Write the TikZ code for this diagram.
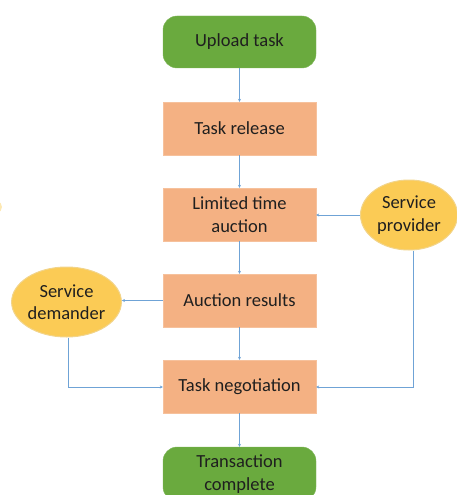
\documentclass[tikz,border=0pt]{standalone}
\usepackage{fontspec}
\setmainfont{Carlito}
\usetikzlibrary{shapes.geometric,arrows.meta}
\definecolor{boxgreen}{HTML}{6AAA3E}
\definecolor{boxorange}{HTML}{F4B183}
\definecolor{ellyellow}{HTML}{FBCB55}
\definecolor{ellborder}{HTML}{F2D48A}
\definecolor{linkblue}{HTML}{6FA3D6}
\begin{document}
\begin{tikzpicture}[x=1pt,y=-1pt,
  every node/.style={font=\fontsize{18.5}{22.5}\selectfont, text=black!88, align=center},
  greenbox/.style={rectangle, rounded corners=14pt, fill=boxgreen, draw=boxgreen!85!white, minimum width=153pt, minimum height=52pt, inner sep=0pt},
  orangebox/.style={rectangle, fill=boxorange, draw=boxorange!80!white, minimum width=153pt, minimum height=53pt, inner sep=0pt},
  actor/.style={ellipse, fill=ellyellow, draw=ellborder, line width=1pt, minimum width=106pt, minimum height=70pt, inner sep=0pt},
  link/.style={draw=linkblue, line width=0.7pt, -{Stealth[length=3pt,width=3pt]}}]
\useasboundingbox (0,0) rectangle (457,495);
\begin{scope}
\clip (0,0) rectangle (457,495);
\fill[ellyellow!45!white] (-60,207) ellipse (62pt and 18pt);
\node[greenbox] (upload) at (239.5,42) {Upload task};
\node[orangebox] (release) at (239.5,128.5) {Task release};
\node[orangebox] (auction) at (239.5,214.5) {Limited time\\auction};
\node[orangebox] (results) at (239.5,300.5) {Auction results};
\node[orangebox] (nego) at (239.5,386.5) {Task negotiation};
\node[greenbox, minimum height=54pt] (done) at (239.5,474) {Transaction\\complete};
\node[actor, minimum width=97pt] (provider) at (409,215) {Service\\provider};
\node[actor] (demander) at (66.5,302) {Service\\demander};
\end{scope}
\coordinate (pcorner) at (413,387);
\coordinate (dcorner) at (68,387);
\draw[link] (upload) -- (release);
\draw[link] (release) -- (auction);
\draw[link] (auction) -- (results);
\draw[link] (results) -- (nego);
\draw[link] (nego) -- (done);
\draw[link] (provider.west) -- (auction.east |- provider.west);
\draw[link] (results.west) -- (demander.east |- results.west);
\draw[link] (provider.south -| pcorner) -- (pcorner) -- (nego.east |- pcorner);
\draw[link] (demander.south -| dcorner) -- (dcorner) -- (nego.west |- dcorner);
\end{tikzpicture}
\end{document}
